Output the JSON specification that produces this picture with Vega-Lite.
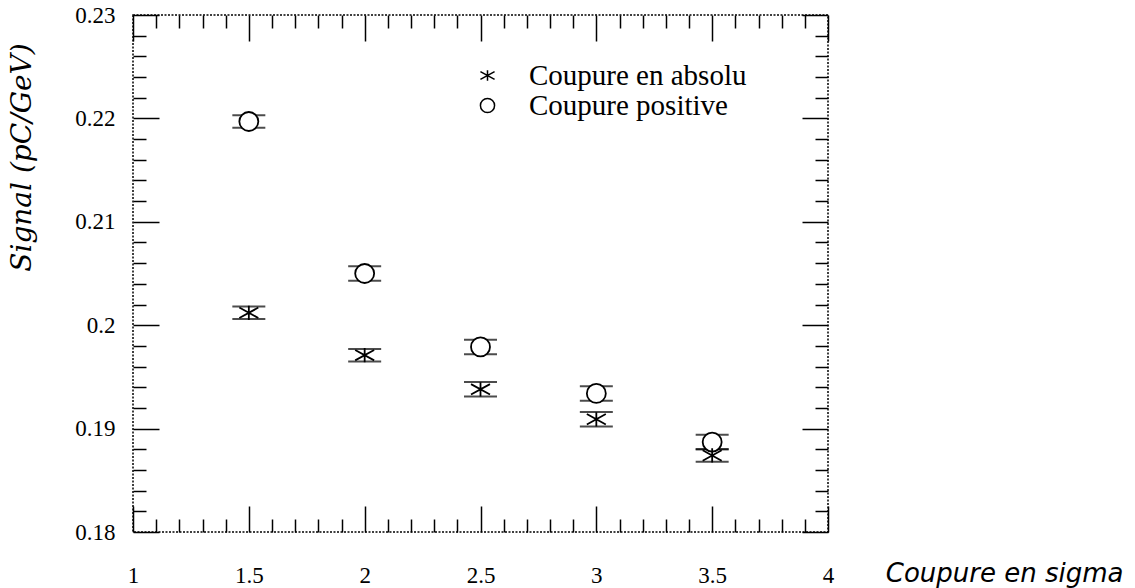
{
  "$schema": "https://vega.github.io/schema/vega-lite/v6.json",
  "autosize": "none",
  "width": 695,
  "height": 517,
  "padding": {"left": 133, "top": 15, "right": 307, "bottom": 56},
  "background": "white",
  "config": {
    "view": {"stroke": "black", "strokeWidth": 1.5, "strokeDash": [2, 1.5]},
    "axis": {"domain": false, "grid": false, "tickColor": "black", "tickWidth": 1.5, "labelColor": "black", "titleColor": "black"}
  },
  "data": {
    "values": [
      {"coupure": 1.5, "signal": 0.2012, "err": 0.0006, "serie": "Coupure en absolu"},
      {"coupure": 2.0, "signal": 0.1971, "err": 0.0006, "serie": "Coupure en absolu"},
      {"coupure": 2.5, "signal": 0.1938, "err": 0.0007, "serie": "Coupure en absolu"},
      {"coupure": 3.0, "signal": 0.1909, "err": 0.0007, "serie": "Coupure en absolu"},
      {"coupure": 3.5, "signal": 0.1874, "err": 0.0006, "serie": "Coupure en absolu"},
      {"coupure": 1.5, "signal": 0.2197, "err": 0.0006, "serie": "Coupure positive"},
      {"coupure": 2.0, "signal": 0.2050, "err": 0.0007, "serie": "Coupure positive"},
      {"coupure": 2.5, "signal": 0.1979, "err": 0.0007, "serie": "Coupure positive"},
      {"coupure": 3.0, "signal": 0.1934, "err": 0.0007, "serie": "Coupure positive"},
      {"coupure": 3.5, "signal": 0.1887, "err": 0.0007, "serie": "Coupure positive"}
    ]
  },
  "resolve": {"axis": {"x": "independent", "y": "independent"}},
  "layer": [
    {
      "mark": {"type": "point", "size": 0},
      "encoding": {
        "x": {"field": "coupure", "type": "quantitative",
          "scale": {"domain": [1, 4], "nice": false, "zero": false},
          "axis": {"orient": "bottom", "title": "Coupure en sigma",
            "values": [1,1.1,1.2,1.3,1.4,1.5,1.6,1.7,1.8,1.9,2,2.1,2.2,2.3,2.4,2.5,2.6,2.7,2.8,2.9,3,3.1,3.2,3.3,3.4,3.5,3.6,3.7,3.8,3.9,4],
            "format": "~g",
            "labelExpr": "abs(datum.value*2 - round(datum.value*2)) < 0.001 ? datum.label : ''",
            "tickSize": {"condition": {"test": "abs(datum.value*2 - round(datum.value*2)) < 0.001", "value": -26}, "value": -13},
            "labelFont": "Liberation Serif", "labelFontSize": 23, "labelPadding": 69, "labelBaseline": "middle",
            "labelFlush": false, "labelOverlap": false,
            "titleFont": "DejaVu Sans", "titleFontStyle": "italic", "titleFontWeight": "normal", "titleFontSize": 26,
            "titleX": 990, "titleY": 41, "titleAlign": "right", "titleBaseline": "middle", "titleAnchor": null, "titleLimit": 400}},
        "y": {"field": "signal", "type": "quantitative",
          "scale": {"domain": [0.18, 0.23], "nice": false, "zero": false},
          "axis": {"orient": "left", "title": "Signal (pC/GeV)",
            "values": [0.18,0.182,0.184,0.186,0.188,0.19,0.192,0.194,0.196,0.198,0.2,0.202,0.204,0.206,0.208,0.21,0.212,0.214,0.216,0.218,0.22,0.222,0.224,0.226,0.228,0.23],
            "format": "~g",
            "labelExpr": "abs(datum.value*100 - round(datum.value*100)) < 0.001 ? datum.label : ''",
            "tickSize": {"condition": {"test": "abs(datum.value*100 - round(datum.value*100)) < 0.001", "value": -26}, "value": -13},
            "labelFont": "Liberation Serif", "labelFontSize": 23, "labelPadding": 44,
            "labelFlush": false, "labelOverlap": false,
            "titleFont": "DejaVu Serif", "titleFontStyle": "italic", "titleFontWeight": "normal", "titleFontSize": 28,
            "titleX": -111, "titleY": 142, "titleAngle": -90, "titleAlign": "center", "titleBaseline": "middle", "titleLimit": 400}}
      }
    },
    {
      "mark": {"type": "point", "size": 0},
      "encoding": {
        "x": {"field": "coupure", "type": "quantitative",
          "scale": {"domain": [1, 4], "nice": false, "zero": false},
          "axis": {"orient": "top", "title": null, "labels": false,
            "values": [1,1.1,1.2,1.3,1.4,1.5,1.6,1.7,1.8,1.9,2,2.1,2.2,2.3,2.4,2.5,2.6,2.7,2.8,2.9,3,3.1,3.2,3.3,3.4,3.5,3.6,3.7,3.8,3.9,4],
            "tickSize": {"condition": {"test": "abs(datum.value*2 - round(datum.value*2)) < 0.001", "value": -26}, "value": -13}}},
        "y": {"field": "signal", "type": "quantitative",
          "scale": {"domain": [0.18, 0.23], "nice": false, "zero": false},
          "axis": {"orient": "right", "title": null, "labels": false,
            "values": [0.18,0.182,0.184,0.186,0.188,0.19,0.192,0.194,0.196,0.198,0.2,0.202,0.204,0.206,0.208,0.21,0.212,0.214,0.216,0.218,0.22,0.222,0.224,0.226,0.228,0.23],
            "tickSize": {"condition": {"test": "abs(datum.value*100 - round(datum.value*100)) < 0.001", "value": -26}, "value": -13}}}
      }
    },
    {
      "mark": {"type": "errorbar", "color": "black", "rule": false, "ticks": {"size": 33, "thickness": 2, "color": "black"}},
      "encoding": {
        "x": {"field": "coupure", "type": "quantitative", "axis": null},
        "y": {"field": "signal", "type": "quantitative", "axis": null},
        "yError": {"field": "err"}
      }
    },
    {
      "transform": [{"filter": "datum.serie === 'Coupure positive'"}],
      "mark": {"type": "point", "filled": true, "color": "white", "opacity": 1, "size": 360, "shape": "circle"},
      "encoding": {
        "x": {"field": "coupure", "type": "quantitative", "axis": null},
        "y": {"field": "signal", "type": "quantitative", "axis": null}
      }
    },
    {
      "mark": {"type": "point", "filled": false, "color": "black", "strokeWidth": 1.8, "opacity": 1, "size": 360},
      "encoding": {
        "x": {"field": "coupure", "type": "quantitative", "axis": null},
        "y": {"field": "signal", "type": "quantitative", "axis": null},
        "shape": {"field": "serie", "type": "nominal",
          "scale": {"domain": ["Coupure en absolu", "Coupure positive"], "range": ["M0,-0.75L0,0.75M-1,-0.55L1,0.55M-1,0.55L1,-0.55", "circle"]},
          "legend": {"orient": "none", "legendX": 340, "legendY": 46, "title": null, "padding": 0,
            "labelFont": "Liberation Serif", "labelFontSize": 29, "labelColor": "black", "labelOffset": 27, "labelLimit": 500,
            "symbolSize": 200, "symbolStrokeColor": "black", "symbolStrokeWidth": 1.5, "symbolOpacity": 1, "rowPadding": 0}}
      }
    }
  ]
}
